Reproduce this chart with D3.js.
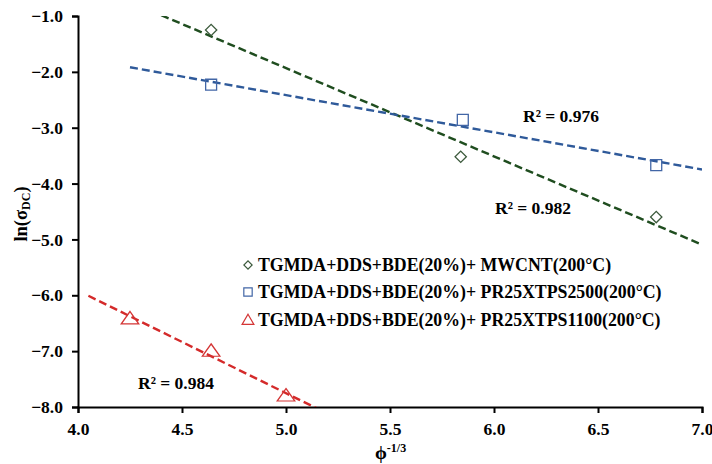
<!DOCTYPE html>
<html><head><meta charset="utf-8">
<script src="https://cdn.jsdelivr.net/npm/d3@7"></script>
<style>
body{margin:0;background:#fff;}
text{font-family:"Liberation Serif","Times New Roman",serif;font-weight:bold;fill:#000;}
</style></head>
<body><svg id="c" width="712" height="464"></svg>
<script>
const seriesNames = ["TGMDA+DDS+BDE(20%)+ MWCNT(200°C)", "TGMDA+DDS+BDE(20%)+ PR25XTPS2500(200°C)", "TGMDA+DDS+BDE(20%)+ PR25XTPS1100(200°C)"];
const mwcntX = [4.64, 5.84, 6.78];
const mwcntY = [-1.25, -3.52, -4.60];
const ps2500X = [4.64, 5.85, 6.78];
const ps2500Y = [-2.23, -2.86, -3.67];
const ps1100X = [4.25, 4.64, 5.00];
const ps1100Y = [-6.42, -7.00, -7.80];
const trendStart = [4.40, 4.25, 4.05];
const trendEnd = [7.0, 7.0, 5.2];
const r2Labels = ["R² = 0.982", "R² = 0.976", "R² = 0.984"];
const xTicks = [4.0, 4.5, 5.0, 5.5, 6.0, 6.5, 7.0];
const yTicks = [-1, -2, -3, -4, -5, -6, -7, -8];

const lineColors = ["#1f4d1f", "#2f5a9a", "#d42a2a"];
const markColors = ["#3c5a3c", "#4266a6", "#d43535"];
const shapes = [d3.symbolSquare, d3.symbolSquare, d3.symbolTriangle];
const rot = [45, 0, 0];

const svg = d3.select("#c");
const L = 78, R = 702, T = 16, B = 407;
const x = d3.scaleLinear().domain([4, 7]).range([L, R]);
const y = d3.scaleLinear().domain([-8, -1]).range([B, T]);

svg.append("defs").append("clipPath").attr("id", "pc")
  .append("rect").attr("x", L).attr("y", T).attr("width", R - L).attr("height", B - T);

const xs = [mwcntX, ps2500X, ps1100X], ys = [mwcntY, ps2500Y, ps1100Y];

function fit(X, Y) {
  const mx = d3.mean(X), my = d3.mean(Y);
  let sxy = 0, sxx = 0;
  X.forEach((v, i) => { sxy += (v - mx) * (Y[i] - my); sxx += (v - mx) ** 2; });
  const m = sxy / sxx;
  return { m, b: my - m * mx };
}

// axes
const xAxis = svg.append("g").attr("transform", `translate(0,${B})`)
  .call(d3.axisBottom(x).tickValues(xTicks).tickFormat(d3.format(".1f")).tickSizeOuter(0).tickSize(6).tickPadding(10));
const yAxis = svg.append("g").attr("transform", `translate(${L},0)`)
  .call(d3.axisLeft(y).tickValues(yTicks).tickFormat(d3.format(".1f")).tickSizeOuter(0).tickSize(6).tickPadding(9));
[xAxis, yAxis].forEach(a => {
  a.select(".domain").attr("stroke", "#000").attr("stroke-width", 2);
  a.selectAll(".tick line").attr("stroke", "#000").attr("stroke-width", 2);
  a.selectAll(".tick text").style("font-size", "17.5px").style("font-family", "Liberation Serif").style("font-weight", "bold").attr("fill", "#000");
});
xAxis.selectAll(".tick text").attr("dy", "0.71em");

// trendlines
const plot = svg.append("g").attr("clip-path", "url(#pc)");
xs.forEach((X, i) => {
  const f = fit(X, ys[i]);
  const pts = [trendStart[i], trendEnd[i]].map(v => [x(v), y(f.m * v + f.b)]);
  plot.append("path").attr("d", d3.line()(pts)).attr("fill", "none")
    .attr("stroke", lineColors[i]).attr("stroke-width", 2.4).attr("stroke-dasharray", "8,4");
});

// markers
const sizes = [64, 120, 110];
xs.forEach((X, i) => {
  svg.append("g").selectAll("path").data(X).join("path")
    .attr("d", d3.symbol().type(shapes[i]).size(sizes[i]))
    .attr("transform", (d, j) => `translate(${x(d)},${y(ys[i][j]) + (i === 2 ? 1 : 0)}) rotate(${rot[i]})` + (i === 2 ? " scale(1.1,0.9)" : ""))
    .attr("fill", "none").attr("stroke", markColors[i]).attr("stroke-width", 1.3);
});

// R2 labels
const r2Pos = [[495, 214], [523, 122], [138, 389]];
r2Labels.forEach((t, i) => {
  svg.append("text").attr("x", r2Pos[i][0]).attr("y", r2Pos[i][1]).style("font-size", "17.5px").text(t);
});

// legend
const legY = [265, 292, 320];
const legSizes = [34, 70, 60];
seriesNames.forEach((t, i) => {
  svg.append("path").attr("d", d3.symbol().type(shapes[i]).size(legSizes[i])())
    .attr("transform", `translate(248,${legY[i] + (i === 2 ? 1 : 0)}) rotate(${rot[i]})`)
    .attr("fill", "none").attr("stroke", markColors[i]).attr("stroke-width", 1.2);
  svg.append("text").attr("x", 258).attr("y", legY[i]).attr("dy", "0.35em").style("font-size", "17.8px").text(t);
});

// axis titles
svg.append("text").attr("transform", "translate(27,214) rotate(-90)").attr("text-anchor", "middle")
  .style("font-size", "18.5px")
  .call(t => { t.append("tspan").text("ln(σ"); t.append("tspan").attr("baseline-shift", "-25%").style("font-size", "12px").text("DC"); t.append("tspan").text(")"); });
svg.append("text").attr("x", 375).attr("y", 459).style("font-size", "19px")
  .call(t => { t.append("tspan").text("ϕ"); t.append("tspan").attr("baseline-shift", "60%").style("font-size", "12px").text("-1/3"); });
</script></body></html>
